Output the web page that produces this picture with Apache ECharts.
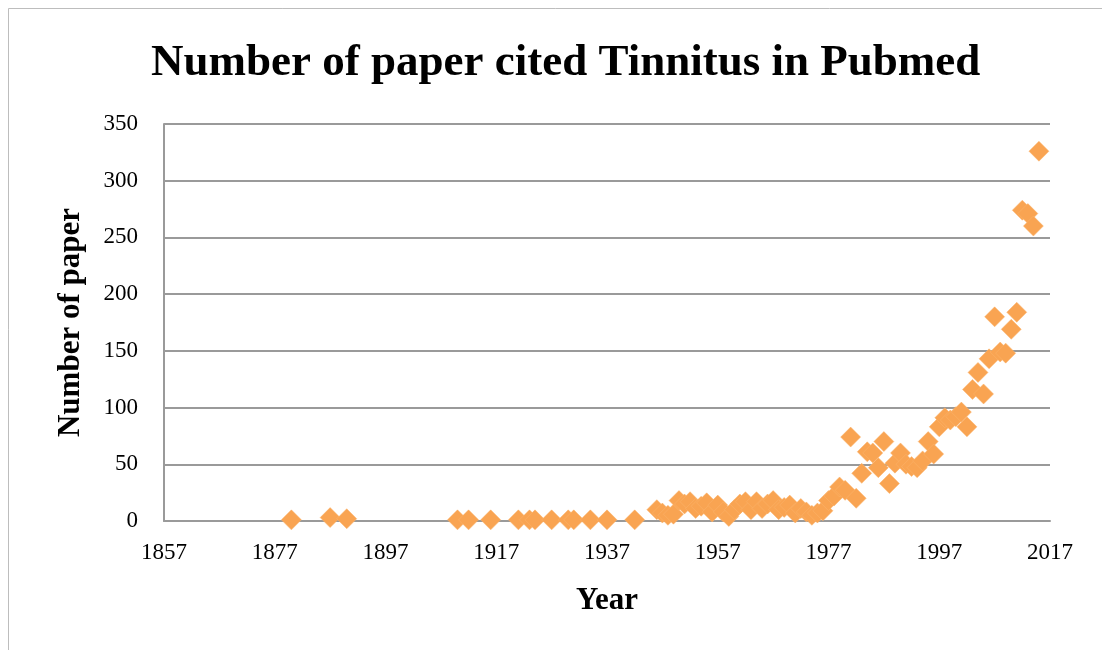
<!DOCTYPE html>
<html>
<head>
<meta charset="utf-8">
<script src="https://cdn.jsdelivr.net/npm/echarts@6/dist/echarts.min.js"></script>
<style>
  html, body { margin: 0; padding: 0; background: #fff; }
  #chart { width: 1102px; height: 650px; }
</style>
</head>
<body>
<div id="chart"></div>
<script>
// years and paper counts
var years = [1880, 1887, 1890, 1910, 1912, 1916, 1921, 1923, 1924, 1927, 1930, 1931, 1934, 1937, 1942,
    1946, 1947, 1948, 1949, 1950, 1951, 1952, 1953, 1954, 1955, 1956, 1957, 1958, 1959, 1960,
    1961, 1962, 1963, 1964, 1965, 1966, 1967, 1968, 1969, 1970, 1971, 1972, 1973, 1974, 1975,
    1976, 1977, 1978, 1979, 1980, 1981, 1982, 1983, 1984, 1985, 1986, 1987, 1988, 1989, 1990,
    1991, 1992, 1993, 1994, 1995, 1996, 1997, 1998, 1999, 2000, 2001, 2002, 2003, 2004, 2005,
    2006, 2007, 2008, 2009, 2010, 2011, 2012, 2013, 2014, 2015];
var papers = [1, 3, 2, 1, 1, 1, 1, 1, 1, 1, 1, 1, 1, 1, 1,
    10, 7, 5, 6, 18, 15, 17, 11, 13, 16, 8, 14, 8, 4, 10,
    15, 17, 10, 17, 11, 15, 18, 10, 12, 14, 7, 11, 8, 5, 7,
    9, 18, 22, 30, 27, 74, 20, 42, 61, 60, 47, 70, 33, 51, 60,
    50, 48, 47, 53, 70, 59, 83, 91, 89, 92, 96, 83, 116, 131, 112,
    143, 180, 149, 148, 169, 184, 274, 271, 260, 326];

var points = years.map(function (y, i) { return [y, papers[i]]; });

var serif = 'Liberation Serif';

var chart = echarts.init(document.getElementById('chart'));
chart.setOption({
    animation: false,
    backgroundColor: '#fff',
    title: {
        text: 'Number of paper cited Tinnitus in Pubmed',
        left: 146,
        top: 36,
        textStyle: { fontFamily: serif, fontWeight: 'bold', fontSize: 45, color: '#000' }
    },
    graphic: [{
        type: 'rect',
        shape: { x: 8.5, y: 8.5, width: 1200, height: 800 },
        style: { fill: 'none', stroke: '#bdbdbd', lineWidth: 1 },
        silent: true
    }],
    grid: { left: 164, right: 52, top: 124, bottom: 129 },
    xAxis: {
        type: 'value',
        min: 1857,
        max: 2017,
        interval: 20,
        name: 'Year',
        nameLocation: 'middle',
        nameGap: 64,
        nameTextStyle: { fontFamily: serif, fontWeight: 'bold', fontSize: 31, color: '#000' },
        axisLine: { show: true, lineStyle: { color: '#9a9a9a', width: 2 } },
        axisTick: { show: false },
        splitLine: { show: false },
        axisLabel: {
            margin: 20, fontFamily: serif, fontSize: 23, color: '#000',
            formatter: function (v) { return String(v); }
        }
    },
    yAxis: {
        type: 'value',
        min: 0,
        max: 350,
        interval: 50,
        name: 'Number of paper',
        nameLocation: 'middle',
        nameGap: 78,
        nameTextStyle: { fontFamily: serif, fontWeight: 'bold', fontSize: 31, color: '#000' },
        axisLine: { show: true, lineStyle: { color: '#9a9a9a', width: 2 } },
        axisTick: { show: false },
        splitLine: { show: true, lineStyle: { color: '#9a9a9a', width: 2 } },
        axisLabel: { margin: 26, fontFamily: serif, fontSize: 23, color: '#000' }
    },
    series: [{
        type: 'scatter',
        symbol: 'diamond',
        symbolSize: 20,
        data: points,
        itemStyle: { color: '#f9a452', borderColor: '#fbb46e', borderWidth: 0.5, opacity: 1 }
    }]
});
</script>
</body>
</html>
